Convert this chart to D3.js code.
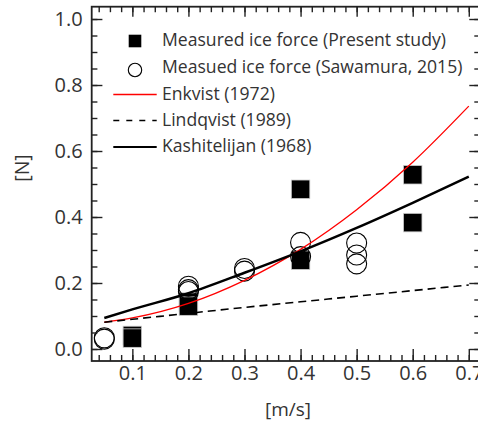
<!DOCTYPE html>
<html>
<head>
<meta charset="utf-8">
<script src="https://cdn.jsdelivr.net/npm/d3@7"></script>
<style>
  body { margin: 0; background: #fff; }
  svg text { font-family: "Open Sans", "Noto Sans", sans-serif; fill: #333; }
</style>
</head>
<body>
<svg id="chart" width="478" height="424"></svg>
<script>
// Measured ice force, present study
const presentSpeed = [0.1, 0.1, 0.2, 0.2, 0.4, 0.4, 0.6, 0.6];
const presentForce = [0.041, 0.033, 0.142, 0.130, 0.484, 0.269, 0.528, 0.383];

// Measured ice force, Sawamura (2015)
const sawamuraSpeed = [0.05, 0.05, 0.2, 0.2, 0.2, 0.3, 0.3, 0.4, 0.4, 0.5, 0.5, 0.5];
const sawamuraForce = [0.034, 0.030, 0.190, 0.180, 0.174, 0.244, 0.236, 0.323, 0.280, 0.321, 0.285, 0.258];

// Empirical formulas, sampled along the speed range
const curveSpeed = [0.05, 0.1, 0.2, 0.3, 0.4, 0.5, 0.6, 0.7];
const enkvistForce = [0.081, 0.094, 0.138, 0.208, 0.302, 0.422, 0.566, 0.736];
const lindqvistForce = [0.081, 0.090, 0.108, 0.126, 0.143, 0.160, 0.177, 0.194];
const kashitelijanForce = [0.094, 0.120, 0.169, 0.231, 0.296, 0.367, 0.443, 0.522];

// Axis ticks
const xTicks = [0.1, 0.2, 0.3, 0.4, 0.5, 0.6, 0.7];
const xMinorTicks = d3.range(0.04, 0.72, 0.02);
const yTicks = [0.0, 0.2, 0.4, 0.6, 0.8, 1.0];
const yMinorTicks = d3.range(0.0, 1.01, 0.05);

const legendLabels = [
  "Measured ice force (Present study)",
  "Measued ice force (Sawamura, 2015)",
  "Enkvist (1972)",
  "Lindqvist (1989)",
  "Kashitelijan (1968)"
];

const svg = d3.select("#chart");
const plot = { left: 91.7, right: 480, top: 6.7, bottom: 361 };

const x = d3.scaleLinear().domain([0.0275, 0.72]).range([plot.left, plot.right]);
const y = d3.scaleLinear().domain([-0.0364, 1.0373]).range([plot.bottom, plot.top]);

// Markers
const squareSize = 18.5;
svg.append("g").selectAll("rect")
  .data(presentSpeed.map((v, i) => [v, presentForce[i]]))
  .join("rect")
  .attr("x", d => x(d[0]) - squareSize / 2)
  .attr("y", d => y(d[1]) - squareSize / 2)
  .attr("width", squareSize)
  .attr("height", squareSize)
  .attr("fill", "#000")
  .attr("stroke", "#ccc")
  .attr("stroke-width", 0.8);

svg.append("g").selectAll("circle")
  .data(sawamuraSpeed.map((v, i) => [v, sawamuraForce[i]]))
  .join("circle")
  .attr("cx", d => x(d[0]))
  .attr("cy", d => y(d[1]))
  .attr("r", 10)
  .attr("fill", "none")
  .attr("stroke", "#000")
  .attr("stroke-width", 1.1);

// Curves
const line = d3.line()
  .x(d => x(d[0]))
  .y(d => y(d[1]))
  .curve(d3.curveMonotoneX);

const curves = [
  { values: enkvistForce, color: "#f00", width: 1.3, dash: null },
  { values: lindqvistForce, color: "#000", width: 1.6, dash: "8,5" },
  { values: kashitelijanForce, color: "#000", width: 2.5, dash: null }
];

curves.forEach(c => {
  svg.append("path")
    .datum(curveSpeed.map((v, i) => [v, c.values[i]]))
    .attr("d", line)
    .attr("fill", "none")
    .attr("stroke", c.color)
    .attr("stroke-width", c.width)
    .attr("stroke-dasharray", c.dash);
});

// Frame
svg.append("rect")
  .attr("x", plot.left).attr("y", plot.top)
  .attr("width", plot.right - plot.left)
  .attr("height", plot.bottom - plot.top)
  .attr("fill", "none")
  .attr("stroke", "#222")
  .attr("stroke-width", 1.8);

// Axes with inward ticks
function styleAxis(g) {
  g.select(".domain").remove();
  g.selectAll(".tick line").attr("stroke", "#222").attr("stroke-width", 1.4);
}
function styleLabels(g) {
  g.selectAll("text")
    .attr("font-size", 20)
    .attr("font-weight", 400)
    .attr("fill", "#333")
    .style("font-family", '"Open Sans", "Noto Sans", sans-serif');
}

svg.append("g")
  .attr("transform", `translate(0,${plot.bottom})`)
  .call(d3.axisBottom(x).tickValues(xMinorTicks).tickSize(-6).tickFormat(""))
  .call(styleAxis);
svg.append("g")
  .attr("transform", `translate(0,${plot.bottom})`)
  .call(d3.axisBottom(x).tickValues(xTicks).tickSize(-12).tickPadding(5).tickFormat(d3.format(".1f")))
  .call(styleAxis)
  .call(styleLabels);

svg.append("g")
  .attr("transform", `translate(0,${plot.top})`)
  .call(d3.axisTop(x).tickValues(xMinorTicks).tickSize(-5.5).tickFormat(""))
  .call(styleAxis);
svg.append("g")
  .attr("transform", `translate(0,${plot.top})`)
  .call(d3.axisTop(x).tickValues(xTicks).tickSize(-10).tickFormat(""))
  .call(styleAxis);

svg.append("g")
  .attr("transform", `translate(${plot.left},0)`)
  .call(d3.axisLeft(y).tickValues(yMinorTicks).tickSize(-5.7).tickFormat(""))
  .call(styleAxis);
svg.append("g")
  .attr("transform", `translate(${plot.left},0)`)
  .call(d3.axisLeft(y).tickValues(yTicks).tickSize(-10.7).tickPadding(9).tickFormat(d3.format(".1f")))
  .call(styleAxis)
  .call(styleLabels);

svg.append("g")
  .attr("transform", `translate(${plot.right},0)`)
  .call(d3.axisRight(y).tickValues(yMinorTicks).tickSize(-5.7).tickFormat(""))
  .call(styleAxis);
svg.append("g")
  .attr("transform", `translate(${plot.right},0)`)
  .call(d3.axisRight(y).tickValues(yTicks).tickSize(-10.7).tickFormat(""))
  .call(styleAxis);

// Axis titles
svg.append("text")
  .attr("transform", "translate(29,168) rotate(-90)")
  .attr("text-anchor", "middle")
  .attr("font-size", 19.5)
  .text("[N]");

svg.append("text")
  .attr("x", 288).attr("y", 416)
  .attr("text-anchor", "middle")
  .attr("font-size", 19)
  .text("[m/s]");

// Legend
const legend = svg.append("g");
const rowY = [40, 67, 93.5, 119.5, 146];
const symX = 135;

legend.append("rect")
  .attr("x", symX - 6.3).attr("y", rowY[0] + 1 - 6.3)
  .attr("width", 12.6).attr("height", 12.6)
  .attr("fill", "#000");
legend.append("circle")
  .attr("cx", symX).attr("cy", rowY[1] + 3)
  .attr("r", 6.7)
  .attr("fill", "none").attr("stroke", "#000").attr("stroke-width", 1.1);

[curves[0], curves[1], curves[2]].forEach((c, i) => {
  legend.append("line")
    .attr("x1", 113.3).attr("x2", 156.7)
    .attr("y1", rowY[i + 2] + 1).attr("y2", rowY[i + 2] + 1)
    .attr("stroke", c.color)
    .attr("stroke-width", c.width === 2.5 ? 2.2 : c.width)
    .attr("stroke-dasharray", c.dash ? "6,7" : null);
});

legend.selectAll("text.label")
  .data(legendLabels)
  .join("text")
  .attr("class", "label")
  .attr("x", 162)
  .attr("y", (d, i) => rowY[i])
  .attr("dy", "0.35em")
  .attr("font-size", 17.6)
  .text(d => d);
</script>
</body>
</html>
